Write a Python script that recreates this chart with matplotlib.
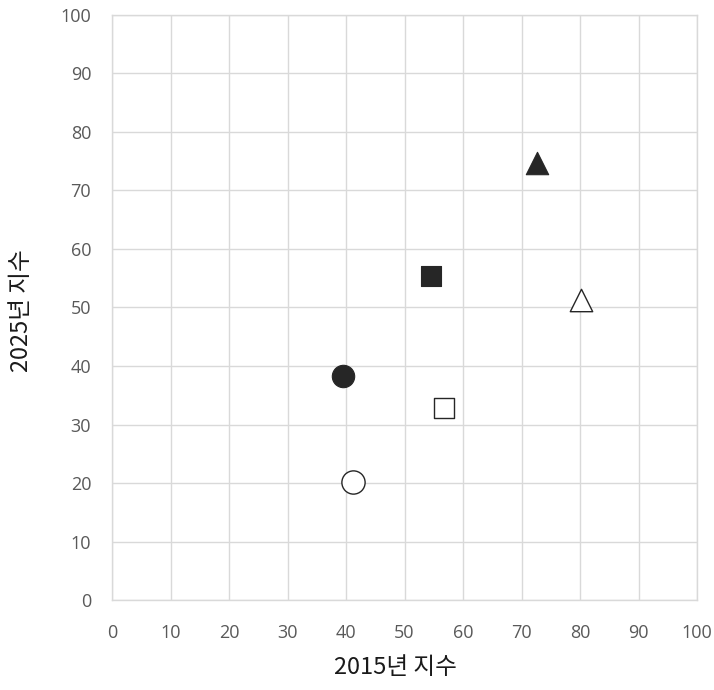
import matplotlib.pyplot as plt

plt.rcParams['font.family'] = ['Noto Sans CJK KR', 'DejaVu Sans']

# values
x_2015 = [54.6, 80.1, 39.4, 56.8, 41.2, 72.6]
y_2025 = [55.3, 51.3, 38.3, 32.9, 20.1, 74.7]
shapes = ['s', '^', 'o', 's', 'o', '^']
filled = [True, False, True, False, False, True]
sizes = [190, 260, 260, 190, 280, 260]

ticks = list(range(0, 101, 10))

fig = plt.figure(figsize=(7.14, 6.9), dpi=100)
ax = fig.add_axes([0.1569, 0.1304, 0.8193, 0.8479])

for x, y, m, f, s in zip(x_2015, y_2025, shapes, filled, sizes):
    if f:
        ax.scatter(x, y, marker=m, s=s, c='#262626', edgecolors='#262626',
                   linewidths=0.8, zorder=3)
    else:
        ax.scatter(x, y, marker=m, s=s, c='white', edgecolors='#262626',
                   linewidths=1.0, zorder=3)

ax.set_xlim(0, 100)
ax.set_ylim(0, 100)
ax.set_xticks(ticks)
ax.set_yticks(ticks)
ax.grid(True, color='#d9d9d9', linewidth=1.0)
ax.set_axisbelow(True)
for sp in ax.spines.values():
    sp.set_color('#d9d9d9')
    sp.set_linewidth(1.0)
ax.tick_params(length=0, labelsize=13, labelcolor='#595959')
ax.tick_params(axis='x', pad=17)
ax.tick_params(axis='y', pad=15)
for lab in ax.get_xticklabels() + ax.get_yticklabels():
    lab.set_fontfamily(['Open Sans', 'DejaVu Sans'])

ax.set_xlabel('2015년 지수', fontsize=17, color='#1a1a1a', va='center')
ax.set_ylabel('2025년 지수', fontsize=17, color='#1a1a1a', va='center')
ax.xaxis.set_label_coords(0.484, -0.1145)
ax.yaxis.set_label_coords(-0.1556, 0.494)

plt.savefig('out.png', dpi=100)
